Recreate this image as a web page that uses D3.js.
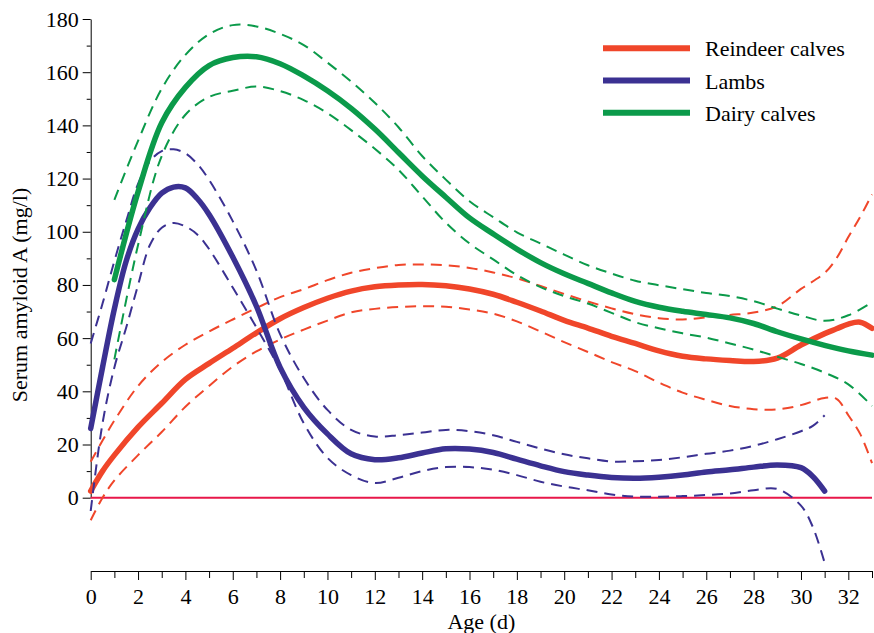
<!DOCTYPE html>
<html>
<head>
<meta charset="utf-8">
<script src="https://cdn.jsdelivr.net/npm/d3@7"></script>
<style>
  body { margin: 0; background: #fff; }
  svg { display: block; }
</style>
</head>
<body>
<div id="chart"></div>
<script>
const width = 874;
const height = 633;
const serif = "'Liberation Serif', 'Times New Roman', serif";

// Reindeer calves: fitted mean with lower / upper confidence bands
const reindeerDays = [0, 0.5, 1, 2, 3, 4, 5, 6, 7, 8, 9, 10, 11, 12, 13, 14, 15, 16, 17, 18, 19, 20,
  21, 22, 23, 24, 25, 26, 27, 28, 29, 30, 31, 31.5, 32, 32.5, 33];
const reindeerMean = [2.5, 10, 16, 26.5, 35.5, 44.5, 50.5, 56.2, 62, 67.3, 71.5, 75, 77.7, 79.3, 80, 80.2, 79.7, 78.5,
  76.5, 73.5, 70.2, 66.7, 63.8, 60.7, 58, 55.2, 53.2, 52.2, 51.6, 51.2, 52.5, 57.4, 61.7, 63.5, 65.3, 66, 63.7];
const reindeerUpper = [13.5, 21.5, 29, 42, 51, 57.5, 62.5, 67, 71.3, 75.4, 78.4, 81.8, 84.6, 86.3, 87.5, 87.7, 87.4,
  86.4, 84.7, 82.5, 79.6, 76.6, 73.8, 71.2, 69, 67.5, 67, 67.8, 68.7, 69.6, 72, 78.5, 84.5, 90, 98, 105.6, 114];
const reindeerLower = [-8.5, 0, 6.5, 16, 24.7, 34.2, 42, 49.3, 55, 59.5, 63.2, 66.6, 69.7, 71, 71.7, 72, 71.8, 70.8,
  69.2, 66.3, 62.5, 58.5, 54.8, 51, 47.6, 43.3, 39.5, 36.8, 34.5, 33.3, 33.2, 34.8, 37.5, 37.2, 31, 24, 13];

// Lambs
const lambDays = [0, 0.5, 1, 1.5, 2, 2.5, 3, 3.5, 4, 4.5, 5, 6, 7, 8, 9, 10, 11, 12, 13, 14, 15, 16, 17, 18, 19,
  20, 21, 22, 23, 24, 25, 26, 27, 28, 29, 30, 30.5, 31];
const lambMean = [26, 49, 71, 89, 101, 109, 114.5, 116.8, 116.5, 112.5, 106.5, 90.5, 72, 49, 34, 24, 16.5, 14.3, 15,
  16.8, 18.4, 18.3, 17, 14.5, 12, 9.8, 8.5, 7.6, 7.3, 7.7, 8.5, 9.7, 10.5, 11.5, 12.3, 11.3, 8, 2.5];
const lambUpper = [58, 73, 89, 104, 118, 126.5, 130.3, 131, 129.5, 125.5, 119.5, 104, 85.4, 61.5, 45, 33, 25.5, 23,
  23.5, 24.5, 25.5, 25, 23.5, 21, 18.5, 16.3, 14.8, 13.6, 13.7, 14.2, 15.2, 16.5, 17.7, 19.5, 22, 25, 27, 31];
const lambLower = [-5, 28, 49, 64, 80, 95, 101.5, 103.3, 102, 99, 93.5, 79, 64, 48, 28, 15, 8.5, 5.5, 7.5, 10,
  11.5, 11.5, 10.5, 8.5, 6, 4.2, 2.8, 1.2, 0.4, 0.4, 0.6, 1, 1.6, 2.8, 3.3, -3, -11, -24.5];

// Dairy calves
const dairyDays = d3.range(1, 34);
const dairyMean = [82, 115, 141, 154.3, 162.5, 165.5, 165.8, 163.2, 158.6, 153, 146.4, 138.6, 129.8, 121, 113, 105.2,
  99.2, 93.5, 88.4, 84.2, 80.6, 77, 73.8, 71.6, 70.1, 68.9, 67.6, 65.5, 62.4, 59.7, 57.3, 55.2, 53.6];
const dairyUpper = [112, 134.2, 153.8, 166.5, 174.3, 177.7, 177.2, 174.4, 170.2, 163.6, 156.5, 148.5, 139.3, 128.5,
  119.6, 111.5, 105.5, 99.8, 95.6, 91.4, 87.4, 84.3, 81.6, 79.9, 78.4, 77, 75.8, 73.9, 71.1, 68.5, 66.5, 68.6, 73.5];
const dairyLower = [52, 95, 128.5, 144, 150.7, 153, 154.6, 152.9, 149.5, 144.6, 138.2, 131.2, 123.3, 113.3, 103.4,
  95.6, 89.6, 83.7, 79.2, 75.8, 73, 69.5, 66, 63.7, 61.8, 60.2, 58, 55.7, 53, 50.3, 47, 42.6, 34.5];

const seriesNames = ["Reindeer calves", "Lambs", "Dairy calves"];
const seriesColors = ["#f0462a", "#3b3192", "#0b9a4a"];

const series = [
  { name: seriesNames[0], color: seriesColors[0], days: reindeerDays, mean: reindeerMean, upper: reindeerUpper, lower: reindeerLower },
  { name: seriesNames[1], color: seriesColors[1], days: lambDays, mean: lambMean, upper: lambUpper, lower: lambLower },
  { name: seriesNames[2], color: seriesColors[2], days: dairyDays, mean: dairyMean, upper: dairyUpper, lower: dairyLower }
];

const plotLeft = 90.7;
const plotRight = 872;
const xAxisY = 571;

const x = d3.scaleLinear().domain([0, 33]).range([plotLeft, plotRight]);
const y = d3.scaleLinear().domain([0, 180]).range([497.7, 19]);

const svg = d3.select("#chart")
  .append("svg")
  .attr("width", width)
  .attr("height", height)
  .attr("font-family", serif);

// serif tick labels instead of d3's default sans-serif
const styleTicks = (g) => g
  .attr("font-family", serif)
  .attr("font-size", 22)
  .call((g) => g.selectAll("text").attr("fill", "#000").attr("font-family", serif));

// y axis: minor ticks every 10, labelled ticks every 20
svg.append("g")
  .attr("transform", `translate(${plotLeft},0)`)
  .call(d3.axisLeft(y).tickValues(d3.range(10, 180, 20)).tickSize(4).tickFormat(""))
  .call((g) => g.select(".domain").remove());

svg.append("g")
  .attr("transform", `translate(${plotLeft},0)`)
  .call(d3.axisLeft(y).tickValues(d3.range(0, 181, 20)).tickSize(8).tickSizeOuter(0).tickPadding(4))
  .call(styleTicks);

// x axis sits below the zero line, one tick per day
svg.append("g")
  .attr("transform", `translate(0,${xAxisY})`)
  .call(d3.axisBottom(x).tickValues(d3.range(1, 34, 2)).tickSize(7).tickFormat(""))
  .call((g) => g.select(".domain").remove());

svg.append("g")
  .attr("transform", `translate(0,${xAxisY})`)
  .call(d3.axisBottom(x).tickValues(d3.range(0, 34, 2)).tickSize(9).tickSizeOuter(0).tickPadding(8.4))
  .call(styleTicks);

svg.selectAll(".domain").attr("stroke", "#000");

// zero reference line
svg.append("line")
  .attr("x1", x(0))
  .attr("x2", x(33))
  .attr("y1", y(0))
  .attr("y2", y(0))
  .attr("stroke", "#e8174a")
  .attr("stroke-width", 2);

const line = d3.line()
  .x((d) => x(d[0]))
  .y((d) => y(d[1]))
  .curve(d3.curveCatmullRom.alpha(0.5));

const pairs = (days, vals) => days.map((d, i) => [d, vals[i]]);

series.forEach((s) => {
  const g = svg.append("g").attr("fill", "none").attr("stroke", s.color);
  [s.lower, s.upper].forEach((band) => {
    g.append("path")
      .attr("d", line(pairs(s.days, band)))
      .attr("stroke-width", 2)
      .attr("stroke-dasharray", "11,7");
  });
  g.append("path")
    .attr("d", line(pairs(s.days, s.mean)))
    .attr("stroke-width", 5.5)
    .attr("stroke-linecap", "round")
    .attr("stroke-linejoin", "round");
});

// legend
const legend = svg.append("g").attr("transform", "translate(603,48.3)");
series.forEach((s, i) => {
  const row = legend.append("g").attr("transform", `translate(0,${i * 32.2})`);
  row.append("line")
    .attr("x1", 0).attr("x2", 87)
    .attr("stroke", s.color)
    .attr("stroke-width", 6);
  row.append("text")
    .attr("x", 102)
    .attr("y", 8)
    .attr("font-family", serif)
    .attr("font-size", 22)
    .attr("fill", "#000")
    .text(s.name);
});

// axis titles
svg.append("text")
  .attr("x", (plotLeft + plotRight) / 2)
  .attr("y", 629)
  .attr("text-anchor", "middle")
  .attr("font-family", serif)
  .attr("font-size", 22)
  .text("Age (d)");

svg.append("text")
  .attr("transform", "translate(27,295) rotate(-90)")
  .attr("text-anchor", "middle")
  .attr("font-family", serif)
  .attr("font-size", 22)
  .text("Serum amyloid A (mg/l)");
</script>
</body>
</html>
